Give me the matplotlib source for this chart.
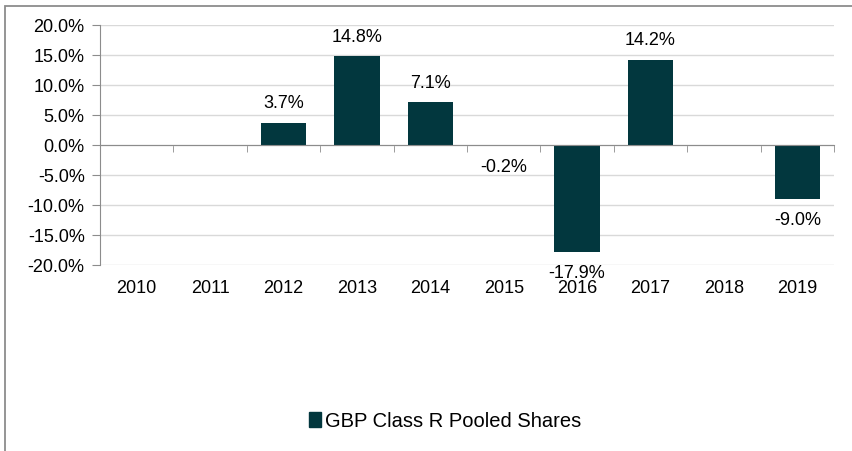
import numpy as np
import matplotlib.pyplot as plt
from matplotlib.patches import Rectangle
from matplotlib.ticker import FuncFormatter

plt.rcParams['font.family'] = ['Liberation Sans', 'DejaVu Sans']

years = ["2010", "2011", "2012", "2013", "2014", "2015", "2016", "2017", "2018", "2019"]
returns = [np.nan, np.nan, 3.7, 14.8, 7.1, -0.2, -17.9, 14.2, np.nan, -9.0]
series_name = "GBP Class R Pooled Shares"
bar_color = "#02373e"

fig = plt.figure(figsize=(8.52, 4.52), dpi=100)
# outer chart frame (cut at right and bottom like the original)
fig.patches.append(Rectangle((5 / 852, -0.1), 1.2, 1.1 - 7 / 452,
                             transform=fig.transFigure, fill=False,
                             edgecolor="#8c8c8c", linewidth=1.3))

ax = fig.add_axes([100 / 852, 1 - 266 / 452, 734 / 852, 240 / 452])
x = np.arange(len(years))
vals = np.array(returns)
ax.bar(x, vals, width=0.62, color=bar_color, zorder=3)

ax.set_xlim(-0.5, len(years) - 0.5)
ax.set_ylim(-20, 20)
ax.set_yticks(np.arange(-20, 21, 5))
ax.yaxis.set_major_formatter(FuncFormatter(lambda v, p: f"{v:.1f}%"))
ax.grid(axis="y", color="#d9d9d9", linewidth=1, zorder=0)

for s in ["top", "right"]:
    ax.spines[s].set_visible(False)
ax.spines["left"].set_color("#8c8c8c")
ax.spines["bottom"].set_position(("data", 0))
ax.spines["bottom"].set_color("#8c8c8c")
ax.spines["bottom"].set_zorder(4)

ax.tick_params(axis="y", length=6, color="#8c8c8c", labelsize=13, pad=5)
ax.set_xticks(x)
ax.set_xticklabels([])
ax.tick_params(axis="x", which="major", length=0)
ax.set_xticks(np.arange(0.5, len(years) - 0.5 + 1, 1), minor=True)
ax.tick_params(axis="x", which="minor", length=5, color="#8c8c8c", direction="out")

for xi, yr in zip(x, years):
    ax.text(xi, -0.095, yr, transform=ax.get_xaxis_transform(),
            ha="center", va="center", fontsize=13)

for xi, v in zip(x, vals):
    if np.isnan(v):
        continue
    off = 14.5 if v >= 0 else -14.5
    ax.annotate(f"{v:.1f}%", (xi, v), xytext=(0, off), textcoords="offset points",
                ha="center", va="center", fontsize=13, zorder=5)

handle = Rectangle((0, 0), 1, 1, color=bar_color)
fig.legend([handle], [series_name], loc="center", bbox_to_anchor=(445 / 852, 1 - 422 / 452),
           frameon=False, fontsize=14.5, handlelength=0.6, handleheight=0.75, handletextpad=0.2)

fig.savefig("out.png", dpi=100)
